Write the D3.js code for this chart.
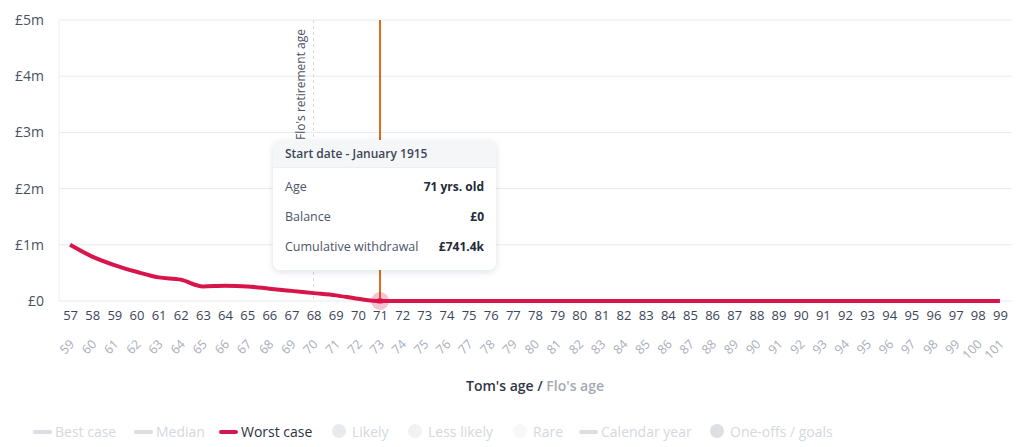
<!DOCTYPE html>
<html>
<head>
<meta charset="utf-8">
<script src="https://cdn.jsdelivr.net/npm/d3@7"></script>
<style>
  body { margin: 0; background: #fff; }
  svg { display: block; font-family: "Open Sans", sans-serif; }
</style>
</head>
<body>
<div id="container"></div>
<script>
// Tom's ages along the x axis, Flo is two years older
var tomAges = d3.range(57, 100);
var floAges = tomAges.map(function (a) { return a + 2; });

// worst case balance (GBP) per Tom's age
var worstCase = [1000000, 790000, 640000, 520000, 420000, 380000, 260000, 270000, 260000,
    220000, 180000, 140000, 100000, 40000, 0, 0, 0, 0, 0, 0, 0, 0, 0, 0, 0, 0, 0, 0, 0, 0,
    0, 0, 0, 0, 0, 0, 0, 0, 0, 0, 0, 0, 0];

var yTicks = [0, 1000000, 2000000, 3000000, 4000000, 5000000];
var yTickLabels = ["£0", "£1m", "£2m", "£3m", "£4m", "£5m"];

var floRetirementAge = 68;   // on Tom's scale
var selectedAge = 71;

var tooltipTitle = "Start date - January 1915";
var tooltipRows = [
    ["Age", "71 yrs. old"],
    ["Balance", "£0"],
    ["Cumulative withdrawal", "£741.4k"]
];

var legendItems = [
    { label: "Best case", type: "line", color: "#dcdee3", text: "#d5d8de", x: 33 },
    { label: "Median", type: "line", color: "#dcdee3", text: "#d5d8de", x: 134 },
    { label: "Worst case", type: "line", color: "#d8154b", text: "#2b3142", x: 219 },
    { label: "Likely", type: "dot", color: "#e9eaed", text: "#d5d8de", x: 332 },
    { label: "Less likely", type: "dot", color: "#f1f2f4", text: "#d5d8de", x: 408 },
    { label: "Rare", type: "dot", color: "#f8f8f9", text: "#d5d8de", x: 513 },
    { label: "Calendar year", type: "line", color: "#dcdee3", text: "#d5d8de", x: 579 },
    { label: "One-offs / goals", type: "dot", color: "#dddfe3", text: "#d5d8de", x: 710 }
];

var w = 1024;
var h = 447;
// plot area (not "top": that name is taken by window.top)
var plotL = 59, plotR = 1011, plotT = 20, plotB = 301;

var svg = d3.select("div#container")
    .append("svg")
    .attr("width", w)
    .attr("height", h);

var defs = svg.append("defs");
var shadow = defs.append("filter").attr("id", "shadow")
    .attr("x", "-20%").attr("y", "-20%").attr("width", "140%").attr("height", "150%");
shadow.append("feDropShadow").attr("dx", 0).attr("dy", 2).attr("stdDeviation", 3)
    .attr("flood-color", "#1c2540").attr("flood-opacity", 0.13);

var x = d3.scalePoint().domain(tomAges).range([plotL, plotR]).padding(0.5);
var y = d3.scaleLinear().domain([0, 5000000]).range([plotB, plotT]);

// gridlines
svg.append("g")
    .selectAll("line")
    .data(yTicks)
    .enter()
    .append("line")
    .attr("x1", plotL).attr("x2", plotR + 1)
    .attr("y1", function (d) { return y(d); })
    .attr("y2", function (d) { return y(d); })
    .attr("stroke", "#e9eaed")
    .attr("stroke-width", 1);

svg.append("line")
    .attr("x1", plotL).attr("x2", plotL)
    .attr("y1", plotT).attr("y2", plotB)
    .attr("stroke", "#eceef0");

// y labels
var yAxis = d3.axisLeft(y).tickValues(yTicks)
    .tickFormat(function (d, i) { return yTickLabels[i]; })
    .tickSize(0).tickPadding(15);
svg.append("g")
    .attr("transform", "translate(" + plotL + ",0)")
    .call(yAxis)
    .call(function (g) { g.select(".domain").remove(); })
    .selectAll("text")
    .attr("font-size", 14)
    .attr("font-family", "Open Sans, sans-serif")
    .attr("fill", "#4a5163");

// Tom's age labels
var xAxis = d3.axisBottom(x).tickSize(0).tickPadding(10);
svg.append("g")
    .attr("transform", "translate(0," + plotB + ")")
    .call(xAxis)
    .call(function (g) { g.select(".domain").remove(); })
    .selectAll("text")
    .attr("font-size", 13)
    .attr("font-family", "Open Sans, sans-serif")
    .attr("fill", "#3b4558");

// Flo's age labels, rotated
svg.append("g")
    .selectAll("text")
    .data(tomAges)
    .enter()
    .append("text")
    .attr("transform", function (d) {
        return "translate(" + (x(d) + 5) + ",345) rotate(-45)";
    })
    .attr("text-anchor", "end")
    .attr("font-size", 12.5)
    .attr("fill", "#a9aebb")
    .text(function (d, i) { return floAges[i]; });

// axis title
var title = svg.append("text")
    .attr("x", 535).attr("y", 391)
    .attr("text-anchor", "middle")
    .attr("font-size", 14);
title.append("tspan").attr("font-weight", 600).attr("fill", "#2f3747").text("Tom's age");
title.append("tspan").attr("font-weight", 600).attr("fill", "#2f3747").text(" / ");
title.append("tspan").attr("font-weight", 600).attr("fill", "#a4a9b6").text("Flo's age");

// Flo's retirement marker
svg.append("line")
    .attr("x1", x(floRetirementAge)).attr("x2", x(floRetirementAge))
    .attr("y1", plotT).attr("y2", plotB)
    .attr("stroke", "#d6d8dd")
    .attr("stroke-dasharray", "3,3");

svg.append("text")
    .attr("transform", "translate(" + (x(floRetirementAge) - 9) + ",29) rotate(-90)")
    .attr("text-anchor", "end")
    .attr("font-size", 12)
    .attr("fill", "#4a5163")
    .text("Flo's retirement age");

// selected age marker
svg.append("line")
    .attr("x1", x(selectedAge)).attr("x2", x(selectedAge))
    .attr("y1", plotT).attr("y2", plotB)
    .attr("stroke", "#e0691c")
    .attr("stroke-width", 2);

// worst case line
var line = d3.line()
    .x(function (d, i) { return x(tomAges[i]); })
    .y(function (d) { return y(d); })
    .curve(d3.curveMonotoneX);

svg.append("path")
    .datum(worstCase)
    .attr("d", line)
    .attr("fill", "none")
    .attr("stroke", "#d8154b")
    .attr("stroke-width", 4)
    .attr("stroke-linejoin", "round");

var selIdx = tomAges.indexOf(selectedAge);
svg.append("circle")
    .attr("cx", x(selectedAge)).attr("cy", y(worstCase[selIdx]))
    .attr("r", 9)
    .attr("fill", "#d8154b")
    .attr("fill-opacity", 0.25);
svg.append("rect")
    .attr("x", x(selectedAge) - 2.5).attr("y", y(worstCase[selIdx]) - 2.5)
    .attr("width", 5).attr("height", 5)
    .attr("fill", "#d8154b");

// tooltip
var tip = svg.append("g").attr("transform", "translate(273,140)");
var tw = 223, th = 130;
tip.append("rect")
    .attr("width", tw).attr("height", th).attr("rx", 8)
    .attr("fill", "#fff")
    .attr("filter", "url(#shadow)");
tip.append("path")
    .attr("d", "M0,27 V8 A8,8 0 0 1 8,0 H" + (tw - 8) + " A8,8 0 0 1 " + tw + ",8 V27 Z")
    .attr("fill", "#f5f6f8");
tip.append("line")
    .attr("x1", 0).attr("x2", tw).attr("y1", 27.5).attr("y2", 27.5)
    .attr("stroke", "#eceef1");
tip.append("text")
    .attr("x", 12).attr("y", 18)
    .attr("font-size", 12).attr("font-weight", 600)
    .attr("fill", "#3d4656")
    .text(tooltipTitle);

tooltipRows.forEach(function (r, i) {
    var ry = 51 + i * 30;
    tip.append("text")
        .attr("x", 12).attr("y", ry)
        .attr("font-size", 12.5)
        .attr("fill", "#4c5569")
        .text(r[0]);
    tip.append("text")
        .attr("x", tw - 12).attr("y", ry)
        .attr("text-anchor", "end")
        .attr("font-size", 12)
        .attr("font-weight", 700)
        .attr("fill", "#232a38")
        .text(r[1]);
});

// legend
var legend = svg.append("g").attr("transform", "translate(0,432)");
legendItems.forEach(function (d) {
    var g = legend.append("g").attr("transform", "translate(" + d.x + ",0)");
    var tx;
    if (d.type == "line") {
        g.append("line")
            .attr("x1", 2).attr("x2", 17).attr("y1", 0).attr("y2", 0)
            .attr("stroke", d.color).attr("stroke-width", 4)
            .attr("stroke-linecap", "round");
        tx = 22;
    } else {
        g.append("circle").attr("cx", 7).attr("cy", -1).attr("r", 7).attr("fill", d.color);
        tx = 20;
    }
    g.append("text")
        .attr("x", tx).attr("y", 5)
        .attr("font-size", 14)
        .attr("fill", d.text)
        .text(d.label);
});
</script>
</body>
</html>
